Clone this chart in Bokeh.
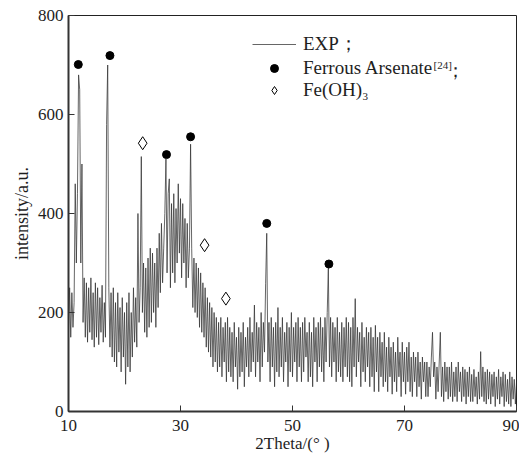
from bokeh.plotting import figure
from bokeh.models import Range1d, FixedTicker, Legend, LegendItem, Label
from bokeh.embed import file_html
from bokeh.resources import INLINE

# ---- data ----
x_ticks = [10, 30, 50, 70, 90]
y_ticks = [0, 200, 400, 600, 800]

# XRD scan, 2theta from 10 to 90 deg in 0.2 deg steps (one row per degree)
intensity = [
    160, 250, 150, 240, 170,   # 10
    220, 460, 300, 440, 680,   # 11
    650, 300, 500, 180, 270,   # 12
    150, 260, 140, 250, 160,   # 13
    270, 145, 240, 130, 260,   # 14
    150, 250, 135, 230, 160,   # 15
    255, 140, 220, 150, 580,   # 16
    700, 250, 130, 240, 110,   # 17
    250, 100, 220, 90, 240,    # 18
    120, 210, 80, 230, 110,    # 19
    200, 55, 220, 90, 240,     # 20
    80, 200, 110, 250, 140,    # 21
    230, 130, 400, 180, 250,   # 22
    515, 200, 300, 160, 290,   # 23
    150, 310, 170, 330, 180,   # 24
    320, 200, 300, 170, 330,   # 25
    210, 360, 240, 380, 260,   # 26
    330, 400, 510, 280, 440,   # 27
    470, 250, 420, 280, 440,   # 28
    260, 410, 300, 460, 320,   # 29
    430, 270, 420, 300, 390,   # 30
    250, 380, 270, 330, 540,   # 31
    330, 210, 310, 200, 300,   # 32
    190, 290, 170, 280, 160,   # 33
    260, 150, 250, 130, 230,   # 34
    120, 220, 110, 210, 90,    # 35
    200, 100, 190, 80, 180,    # 36
    90, 190, 70, 170, 100,     # 37
    180, 60, 190, 80, 170,     # 38
    70, 160, 60, 180, 90,      # 39
    150, 45, 170, 70, 160,     # 40
    80, 180, 50, 150, 90,      # 41
    170, 70, 190, 80, 160,     # 42
    100, 215, 70, 180, 100,    # 43
    170, 60, 200, 90, 180,     # 44
    120, 258, 360, 100, 180,   # 45
    60, 190, 90, 170, 50,      # 46
    180, 80, 210, 70, 170,     # 47
    90, 190, 60, 160, 100,     # 48
    180, 50, 170, 80, 200,     # 49
    70, 170, 100, 180, 60,     # 50
    190, 90, 170, 60, 180,     # 51
    80, 190, 110, 160, 60,     # 52
    180, 70, 160, 50, 190,     # 53
    100, 170, 60, 180, 90,     # 54
    190, 80, 170, 60, 190,     # 55
    100, 200, 290, 90, 190,    # 56
    70, 180, 100, 170, 60,     # 57
    190, 80, 160, 70, 180,     # 58
    60, 170, 90, 190, 70,      # 59
    180, 60, 170, 50, 190,     # 60
    90, 228, 70, 170, 100,     # 61
    160, 50, 180, 80, 150,     # 62
    60, 170, 90, 160, 50,      # 63
    170, 70, 150, 40, 174,     # 64
    80, 150, 40, 160, 70,      # 65
    140, 50, 160, 60, 130,     # 66
    40, 150, 70, 130, 35,      # 67
    140, 60, 120, 40, 150,     # 68
    70, 120, 30, 140, 60,      # 69
    120, 35, 130, 60, 140,     # 70
    40, 110, 30, 120, 60,      # 71
    110, 30, 120, 50, 100,     # 72
    25, 110, 60, 100, 30,      # 73
    100, 30, 90, 50, 110,      # 74
    160, 70, 100, 25, 90,      # 75
    40, 100, 160, 30, 90,      # 76
    20, 100, 40, 90, 25,       # 77
    90, 30, 100, 20, 80,       # 78
    30, 90, 20, 100, 40,       # 79
    80, 20, 90, 30, 85,        # 80
    15, 80, 30, 90, 20,        # 81
    75, 20, 85, 30, 70,        # 82
    15, 80, 25, 121, 30,       # 83
    90, 20, 80, 15, 85,        # 84
    25, 80, 15, 75, 30,        # 85
    80, 10, 70, 25, 85,        # 86
    15, 70, 30, 80, 10,        # 87
    75, 20, 65, 15, 80,        # 88
    10, 70, 25, 65, 15,        # 89
    60,                        # 90
]
two_theta = [round(10 + 0.2 * i, 1) for i in range(len(intensity))]

# Ferrous Arsenate reference peaks (filled dots)
fa_x = [11.75, 17.4, 27.5, 31.8, 45.4, 56.5]
fa_y = [701, 719, 519, 555, 380, 298]
# Fe(OH)3 reference peaks (open diamonds)
fe_x = [23.25, 34.3, 38.1]
fe_y = [542, 336, 228]

FONT = "Liberation Serif"
INK = "#1e1e1e"

p = figure(frame_width=448, frame_height=396,
           x_range=Range1d(10, 90), y_range=Range1d(0, 800),
           output_backend="svg", toolbar_location=None,
           min_border_left=68, min_border_right=3,
           min_border_top=15, min_border_bottom=38)
p.grid.visible = False
p.background_fill_color = "white"
p.border_fill_color = "white"
p.outline_line_color = "#222222"
p.outline_line_width = 1

line_r = p.line(two_theta, intensity, line_color="#333333", line_width=0.75)
dot_r = p.scatter(fa_x, fa_y, marker="circle", size=8,
                  fill_color="black", line_color="black")
dia_r = p.scatter(fe_x, fe_y, marker="diamond", size=13,
                  fill_color="white", line_color="black", line_width=1)

for ax in (p.xaxis[0], p.yaxis[0]):
    ax.axis_line_width = 2
    ax.axis_line_color = "#333333"
    ax.major_tick_line_color = "#333333"
    ax.major_tick_line_width = 1
    ax.major_tick_out = 0
    ax.major_tick_in = 6
    ax.minor_tick_line_color = None
    ax.major_label_text_font = FONT
    ax.major_label_text_color = INK
    ax.major_label_text_font_size = "17px"
    ax.axis_label_text_font = FONT
    ax.axis_label_text_font_style = "normal"
    ax.axis_label_text_color = INK

p.xaxis.ticker = FixedTicker(ticks=x_ticks)
p.yaxis.ticker = FixedTicker(ticks=y_ticks)
p.xaxis.major_label_standoff = 8
p.yaxis.major_label_standoff = 5
p.xaxis.axis_label = "2Theta/(° )"
p.yaxis.axis_label = "intensity/a.u."
p.xaxis.axis_label_text_font_size = "17px"
p.yaxis.axis_label_text_font_size = "18px"
p.xaxis.axis_label_standoff = 0
p.yaxis.axis_label_standoff = 3

legend = Legend(items=[
    LegendItem(label="EXP；", renderers=[line_r]),
    LegendItem(label="Ferrous Arsenate", renderers=[dot_r]),
    LegendItem(label="Fe(OH)", renderers=[dia_r]),
], location=(184, 310))
legend.padding = 0
legend.margin = 0
legend.border_line_alpha = 0
legend.background_fill_alpha = 0
legend.glyph_width = 44
legend.glyph_height = 20
legend.label_height = 20
legend.spacing = -2
legend.label_standoff = 7
legend.label_text_font = FONT
legend.label_text_font_size = "19px"
legend.label_text_color = INK
p.add_layout(legend)

p.add_layout(Label(x=365, y=347, x_units="screen", y_units="screen", text="[24]",
                   text_font=FONT, text_font_size="11px", text_color=INK,
                   text_baseline="middle"))
p.add_layout(Label(x=377, y=341, x_units="screen", y_units="screen", text="；",
                   text_font=FONT, text_font_size="19px", text_color=INK,
                   text_baseline="middle"))
p.add_layout(Label(x=294, y=315, x_units="screen", y_units="screen", text="3",
                   text_font=FONT, text_font_size="11px", text_color=INK,
                   text_baseline="middle"))

open("out.html", "w").write(file_html(p, INLINE))
